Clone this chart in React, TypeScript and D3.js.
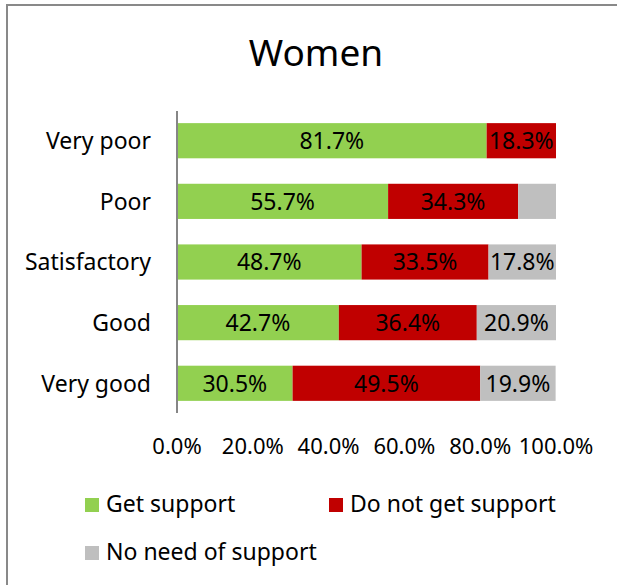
import React from "react";
import * as d3 from "d3";

const categories = ["Very poor", "Poor", "Satisfactory", "Good", "Very good"];
const getSupport = [81.7, 55.7, 48.7, 42.7, 30.5];
const notGetSupport = [18.3, 34.3, 33.5, 36.4, 49.5];
const noNeed = [0, 10.0, 17.8, 20.9, 19.9];
const noNeedLabeled = [false, false, true, true, true];
const seriesNames = ["Get support", "Do not get support", "No need of support"];
const seriesColors = ["#92D050", "#C00000", "#BFBFBF"];
const xTicks = [0, 20, 40, 60, 80, 100];

const FONT = "'Noto Sans', 'Open Sans', sans-serif";

export default function App() {
  const W = 617;
  const H = 585;
  const x = d3.scaleLinear().domain([0, 100]).range([177, 556]);
  const y = d3
    .scaleBand<string>()
    .domain(categories)
    .range([111, 413])
    .paddingInner(0.42)
    .paddingOuter(0.2);

  const rows = categories.map((c, i) => ({
    cat: c,
    vals: [getSupport[i], notGetSupport[i], noNeed[i]],
    show: [true, true, noNeedLabeled[i]],
  }));

  return (
    <svg
      width={W}
      height={H}
      style={{ position: "absolute", left: 0, top: 0, background: "#fff" }}
      fontFamily={FONT}
    >
      <rect x={7} y={5} width={W + 10} height={H + 10} fill="#fff" stroke="#898989" strokeWidth={2} />
      <text x={316} y={66} textAnchor="middle" fontSize={37} fill="#000">
        Women
      </text>
      {rows.map((r) => {
        let acc = 0;
        const y0 = y(r.cat)!;
        const bw = y.bandwidth();
        return (
          <g key={r.cat}>
            {r.vals.map((v, j) => {
              const x0 = x(acc);
              acc += v;
              const x1 = x(acc);
              if (v <= 0) return null;
              return (
                <g key={j}>
                  <rect x={x0} y={y0} width={x1 - x0} height={bw} fill={seriesColors[j]} />
                  {r.show[j] && (
                    <text
                      x={(x0 + x1) / 2}
                      y={y0 + bw / 2}
                      dy="0.36em"
                      textAnchor="middle"
                      fontSize={23}
                      fill="#000"
                    >
                      {v.toFixed(1)}%
                    </text>
                  )}
                </g>
              );
            })}
            <text x={151} y={y0 + bw / 2} dy="0.36em" textAnchor="end" fontSize={23} fill="#000">
              {r.cat}
            </text>
          </g>
        );
      })}
      <line x1={177} x2={177} y1={111} y2={413} stroke="#868686" strokeWidth={2} />
      {xTicks.map((t) => (
        <text key={t} x={x(t)} y={454} textAnchor="middle" fontSize={22} fill="#000">
          {t.toFixed(1)}%
        </text>
      ))}
      {seriesNames.map((n, i) => {
        const lx = i === 1 ? 329 : 85;
        const ly = i === 2 ? 560 : 512;
        return (
          <g key={n}>
            <rect x={lx} y={ly - 14} width={14} height={14} fill={seriesColors[i]} />
            <text x={lx + 21} y={ly} fontSize={23} fill="#000">
              {n}
            </text>
          </g>
        );
      })}
    </svg>
  );
}
